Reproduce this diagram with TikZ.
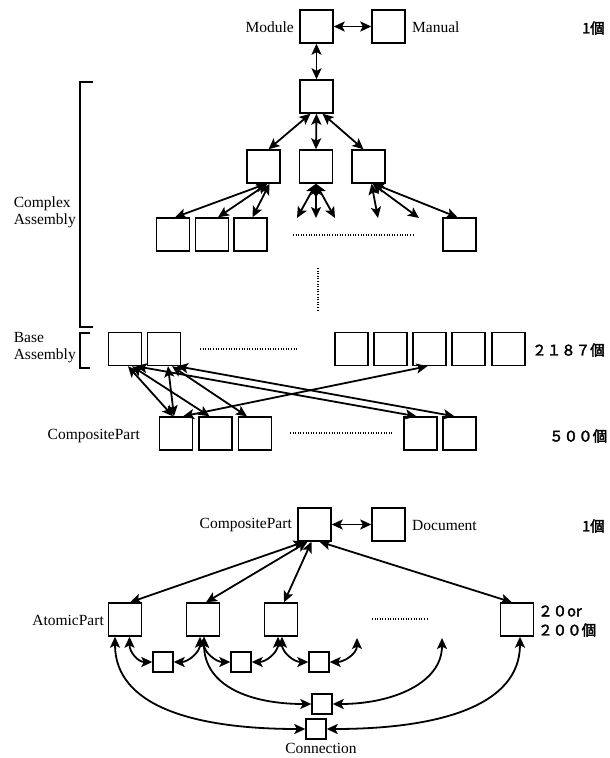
\documentclass[tikz,border=0pt]{standalone}
\usepackage{fontspec}
\setmainfont{Liberation Serif}
\newfontfamily\jpfont[FakeBold=2.5]{Noto Sans CJK JP}
\usetikzlibrary{arrows.meta,calc}
\begin{document}
\begin{tikzpicture}[x=1pt,y=-1pt,
  box/.style={draw,line width=1.4pt,minimum size=33pt,inner sep=0pt},
  sbox/.style={draw,line width=1.4pt,minimum size=20pt,inner sep=0pt},
  tip/.tip={Stealth[length=11pt,width=10pt,inset=2.5pt]},
  link/.style={line width=1.8pt,{tip}-{tip}},
  lbl/.style={font=\fontsize{15.5}{17}\selectfont,inner sep=0pt},
  cnt/.style={font=\jpfont\fontsize{14.5}{17}\selectfont,inner sep=0pt,anchor=west},
  dots/.style={line width=1.1pt,dash pattern=on 1pt off 1.6pt},
  brk/.style={line width=1.3pt}
]
\useasboundingbox (0,0) rectangle (610,758);

% ---------- module level ----------
\node[box] (mod) at (316.5,26.5) {};
\node[box] (man) at (388.5,26.5) {};
\node[lbl,anchor=east] (modt) at (294,27) {Module};
\node[lbl,anchor=west] (mant) at (412,27) {Manual};
\node[cnt] (n1) at (582,28) {1個};
\draw[link] (mod) -- (man);

% ---------- complex assemblies ----------
\node[box] (top) at (316.5,96.5) {};
\draw[link] (mod) -- (top);
\node[box] (ca) at (263.5,166.5) {};
\node[box] (cb) at (316,166.5) {};
\node[box] (cc) at (368.5,166.5) {};
\draw[link] ([xshift=-6pt]top.south) -- ([xshift=5pt]ca.north);
\draw[link] (top.south) -- (cb.north);
\draw[link] ([xshift=6pt]top.south) -- ([xshift=-5pt]cc.north);

\node[box] (l1) at (173,234.5) {};
\node[box] (l2) at (212,234.5) {};
\node[box] (l3) at (250.5,234.5) {};
\node[box] (l4) at (459.5,234.5) {};
\draw[dots] (293,235) -- (415,235);

\coordinate (fb1) at (297,218);
\coordinate (fb2) at (316,218);
\coordinate (fb3) at (335,218);
\coordinate (fc1) at (378,218);
\coordinate (fc2) at (419,218);

\draw[link] ([xshift=3pt]ca.south) -- ([xshift=2pt]l1.north);
\draw[link] ([xshift=4pt]ca.south) -- ([xshift=6pt]l2.north);
\draw[link] ([xshift=6pt]ca.south) -- ([xshift=2pt]l3.north);
\draw[link] (cb.south) -- (fb1);
\draw[link] (cb.south) -- (fb2);
\draw[link] (cb.south) -- (fb3);
\draw[link] ([xshift=3pt]cc.south) -- (fc1);
\draw[link] ([xshift=4pt]cc.south) -- (fc2);
\draw[link] ([xshift=5pt]cc.south) -- ([xshift=-2pt]l4.north);

\draw[brk] (93,82) -- (80,82) -- (80,327) -- (93,327);
\node[lbl,anchor=east,align=left] (cxt) at (76,212) {Complex\\Assembly};
\draw[dots] (318,268) -- (318,312);

% ---------- base assemblies ----------
\draw[brk] (90,333) -- (80,333) -- (80,368) -- (90,368);
\node[lbl,anchor=east,align=left] (bst) at (76,348) {Base\\Assembly};
\node[box] (b1) at (125,349) {};
\node[box] (b2) at (164,349) {};
\draw[dots] (200,349) -- (298,349);
\node[box] (r1) at (351.5,349) {};
\node[box] (r2) at (390.5,349) {};
\node[box] (r3) at (429.5,349) {};
\node[box] (r4) at (468.5,349) {};
\node[box] (r5) at (508.5,349) {};
\node[cnt] (n2187) at (532,350) {２１８７個};

% ---------- composite parts ----------
\node[lbl,anchor=east] (cpt) at (140,436) {CompositePart};
\node[box] (c1) at (176,433.5) {};
\node[box] (c2) at (215.5,433.5) {};
\node[box] (c3) at (255,433.5) {};
\draw[dots] (290,433) -- (393,433);
\node[box] (c4) at (420.5,433.5) {};
\node[box] (c5) at (459.5,433.5) {};
\node[cnt] (n500) at (549,436) {５００個};

\draw[link] ([xshift=3pt]b1.south) -- ([xshift=-3pt]c1.north);
\draw[link] ([xshift=4pt]b2.south) -- ([xshift=-2pt]c1.north);
\draw[link] ([xshift=7pt]b1.south) -- ([xshift=-6pt]c2.north);
\draw[link] ([xshift=8pt]b2.south) -- ([xshift=-8pt]c3.north);
\draw[link] ([xshift=11pt]b1.south) -- ([xshift=-4pt]c4.north);
\draw[link] ([xshift=13pt]b2.south) -- ([xshift=-5pt]c5.north);
\draw[link] ([xshift=7pt]c1.north) -- ([xshift=-2pt]r3.south);

% ---------- composite part internals ----------
\node[box] (cp) at (314.5,524.5) {};
\node[box] (doc) at (388.5,524.5) {};
\node[lbl,anchor=east] (cpt2) at (292,525) {CompositePart};
\node[lbl,anchor=west] (doct) at (412,525) {Document};
\node[cnt] (n1b) at (582,526) {1個};
\draw[link] (cp) -- (doc);

\node[box] (a1) at (125,619.5) {};
\node[box] (a2) at (203,619.5) {};
\node[box] (a3) at (281,619.5) {};
\node[box] (a4) at (517,619.5) {};
\node[lbl,anchor=east] (apt) at (104,620) {AtomicPart};
\draw[dots] (372,619) -- (428,619);
\node[cnt] (n20) at (538,611) {２０or};
\node[cnt] (n200) at (538,630) {２００個};

\draw[link] ([xshift=-10pt]cp.south) -- ([xshift=5pt]a1.north);
\draw[link] ([xshift=-7pt]cp.south) -- ([xshift=3pt]a2.north);
\draw[link] ([xshift=-3pt]cp.south) -- ([xshift=3pt]a3.north);
\draw[link] ([xshift=5pt]cp.south) -- ([xshift=-5pt]a4.north);

\node[sbox] (s1) at (163,662) {};
\node[sbox] (s2) at (241,662) {};
\node[sbox] (s3) at (319,662) {};
\node[sbox] (k1) at (322,704) {};
\node[sbox] (k2) at (316,729) {};
\node[lbl] (kt) at (321,748) {Connection};

\coordinate (f1) at (357,638);
\coordinate (f2) at (442,638);

\draw[link] ([xshift=4.5pt]a1.south) .. controls +(0,16) and +(-14,0) .. (s1.west);
\draw[link] ([xshift=-3pt]a2.south) .. controls +(0,16) and +(14,0) .. (s1.east);
\draw[link] ([xshift=1pt]a2.south) .. controls +(0,16) and +(-14,0) .. (s2.west);
\draw[link] ([xshift=-3pt]a3.south) .. controls +(0,16) and +(14,0) .. (s2.east);
\draw[link] ([xshift=1pt]a3.south) .. controls +(0,16) and +(-14,0) .. (s3.west);
\draw[link] (f1) .. controls +(0,16) and +(14,0) .. (s3.east);

\draw[link] ([xshift=-10pt]a1.south) .. controls +(0,70) and +(-110,0) .. (k2.west);
\draw[link] ([xshift=1pt]a2.south) .. controls +(0,50) and +(-60,0) .. (k1.west);
\draw[link] (f2) .. controls +(0,45) and +(60,0) .. (k1.east);
\draw[link] ([xshift=3pt]a4.south) .. controls +(0,70) and +(110,0) .. (k2.east);
\end{tikzpicture}
\end{document}
